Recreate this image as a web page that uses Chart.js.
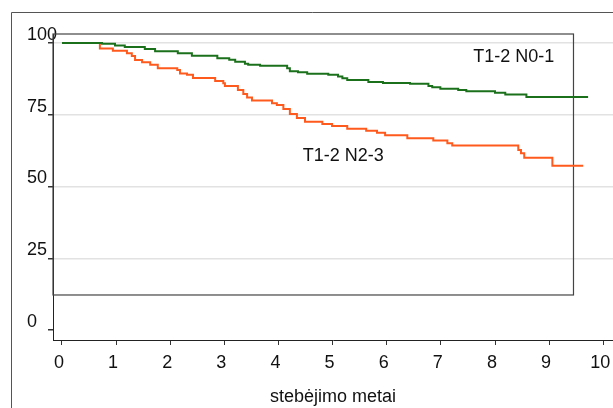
<!DOCTYPE html>
<html lang="lt">
<head>
<meta charset="UTF-8" />
<title>Išgyvenamumas</title>
<script src="https://cdn.jsdelivr.net/npm/chart.js"></script>
<style>
  body { margin: 0; background: #fff; }
  #wrap { width: 613px; height: 408px; position: relative; }
</style>
</head>
<body>
<div id="wrap"><canvas id="km"></canvas></div>
<script>
  // step points: [years, % surviving] – value changes at that time
  const groupA = 'T1-2 N0-1';
  const groupATime = [0, 0.74, 0.98, 1.16, 1.53, 1.72, 2.14, 2.40, 2.87, 3.09, 3.20, 3.38, 3.44, 3.66, 4.16, 4.21, 4.36, 4.53, 4.92, 5.10, 5.18, 5.27, 5.66, 5.93, 6.43, 6.77, 6.84, 6.99, 7.32, 7.47, 8.00, 8.19, 8.58, 9.72];
  const groupAValue = [100, 99.7, 99.1, 98.6, 97.9, 97.1, 96.4, 95.6, 94.7, 94.2, 93.5, 92.8, 92.4, 92.1, 91.2, 90.2, 89.8, 89.3, 88.9, 88.3, 87.7, 87.1, 86.4, 86.1, 85.8, 85.0, 84.6, 84.1, 83.6, 83.2, 82.7, 82.1, 81.2, 81.2];

  const groupB = 'T1-2 N2-3';
  const groupBTime = [0, 0.70, 0.94, 1.20, 1.29, 1.35, 1.48, 1.63, 1.77, 2.13, 2.18, 2.31, 2.42, 2.83, 2.98, 3.01, 3.25, 3.35, 3.42, 3.51, 3.88, 3.97, 4.09, 4.21, 4.34, 4.49, 4.81, 4.99, 5.27, 5.62, 5.82, 5.97, 6.38, 6.86, 7.12, 7.21, 8.43, 8.48, 8.54, 9.06, 9.63];
  const groupBValue = [100, 98.1, 97.3, 96.4, 95.5, 94.1, 93.3, 92.4, 91.2, 90.6, 89.4, 88.9, 87.8, 86.8, 86.0, 85.0, 83.6, 82.2, 81.0, 80.0, 79.0, 78.4, 77.0, 75.3, 73.9, 72.6, 71.8, 71.1, 70.1, 69.4, 68.7, 67.9, 66.8, 66.0, 65.1, 64.3, 62.7, 61.6, 60.0, 57.2, 57.2];

  const xTicks = [0, 1, 2, 3, 4, 5, 6, 7, 8, 9, 10];
  const yTicks = [0, 25, 50, 75, 100];
  const xTitle = 'stebėjimo metai';

  // where the group names sit, in data units
  const labelA = { x: 7.6, y: 95.1 };
  const labelB = { x: 4.45, y: 60.6 };
  // the stray box drawn in the plot (right edge / bottom edge, data units)
  const boxRight = 9.45;
  const boxBottom = 12.2;

  const pts = (t, v) => t.map((x, i) => ({ x: x, y: v[i] }));
  const FONT = '"Liberation Sans", Arial, sans-serif';

  const decor = {
    id: 'decor',
    beforeDatasetsDraw(chart) {
      const { ctx, scales: { x, y }, chartArea } = chart;
      ctx.save();
      ctx.strokeStyle = '#444';
      ctx.lineWidth = 1.2;
      ctx.strokeRect(chartArea.left, chartArea.top,
        x.getPixelForValue(boxRight) - chartArea.left,
        y.getPixelForValue(boxBottom) - chartArea.top);
      ctx.restore();
    },
    afterDraw(chart) {
      const { ctx, scales: { x, y } } = chart;
      ctx.save();
      // outer frame (only top and left show in the window)
      ctx.strokeStyle = '#555';
      ctx.lineWidth = 1;
      ctx.beginPath();
      ctx.moveTo(11.5, 408);
      ctx.lineTo(11.5, 12.5);
      ctx.lineTo(613, 12.5);
      ctx.stroke();
      ctx.fillStyle = '#111';
      ctx.font = '18px ' + FONT;
      ctx.textAlign = 'left';
      ctx.textBaseline = 'middle';
      ctx.fillText(groupA, x.getPixelForValue(labelA.x), y.getPixelForValue(labelA.y));
      ctx.fillText(groupB, x.getPixelForValue(labelB.x), y.getPixelForValue(labelB.y));
      ctx.restore();
    }
  };

  new Chart(document.getElementById('km'), {
    type: 'line',
    data: {
      datasets: [
        {
          label: groupA,
          data: pts(groupATime, groupAValue),
          borderColor: '#1b701b',
          borderWidth: 2,
          stepped: true,
          pointRadius: 0,
          fill: false
        },
        {
          label: groupB,
          data: pts(groupBTime, groupBValue),
          borderColor: '#ff5a1e',
          borderWidth: 2,
          stepped: true,
          pointRadius: 0,
          fill: false
        }
      ]
    },
    options: {
      responsive: true,
      maintainAspectRatio: false,
      animation: false,
      devicePixelRatio: 1,
      layout: { padding: { top: 34, left: 0, right: 0, bottom: 0 } },
      plugins: { legend: { display: false }, tooltip: { enabled: false } },
      scales: {
        x: {
          type: 'linear',
          min: -0.166,
          max: 10.18,
          afterBuildTicks: s => { s.ticks = xTicks.map(v => ({ value: v })); },
          afterFit: s => { s.height = 68; s.paddingLeft = 0; s.paddingRight = 0; },
          border: { color: '#222', width: 1 },
          grid: { drawOnChartArea: false, tickLength: 5, tickColor: '#333' },
          ticks: {
            color: '#111', padding: 7, labelOffset: -3, maxRotation: 0,
            font: { family: FONT, size: 18 }
          },
          title: {
            display: true, text: xTitle, color: '#111',
            font: { family: FONT, size: 18 },
            padding: { top: 0, bottom: 0 }
          }
        },
        y: {
          type: 'linear',
          min: -3.484,
          max: 103.14,
          afterBuildTicks: s => { s.ticks = yTicks.map(v => ({ value: v })); },
          afterFit: s => { s.width = 53; s.paddingTop = 0; s.paddingBottom = 0; },
          border: { color: '#222', width: 1 },
          grid: {
            color: c => (c.tick && c.tick.value === 0 ? 'rgba(0,0,0,0)' : '#e2e2e2'),
            lineWidth: 1.5,
            tickLength: 5,
            tickColor: '#333'
          },
          ticks: {
            color: '#111', mirror: true, padding: -26, labelOffset: -8,
            font: { family: FONT, size: 18 }
          }
        }
      }
    },
    plugins: [decor]
  });
</script>
</body>
</html>
